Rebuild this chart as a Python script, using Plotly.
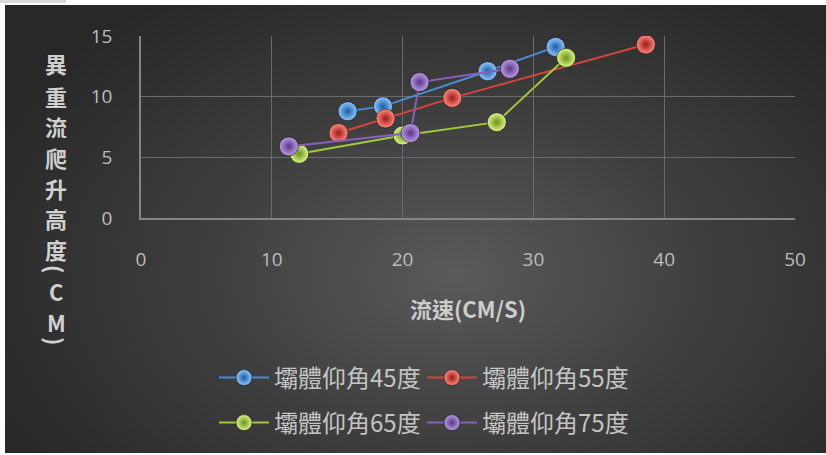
import numpy as np
import plotly.graph_objects as go

# Flow speed (cm/s) vs. gravity-current climbing height (cm) for four dam angles
series_names = ["壩體仰角45度", "壩體仰角55度", "壩體仰角65度", "壩體仰角75度"]
x45 = [15.8, 18.5, 26.5, 31.7]
y45 = [8.8, 9.2, 12.1, 14.1]
x55 = [15.1, 18.7, 23.8, 38.6]
y55 = [7.0, 8.2, 9.9, 14.3]
x65 = [12.1, 20.0, 27.2, 32.5]
y65 = [5.3, 6.8, 7.9, 13.2]
x75 = [11.3, 20.6, 21.3, 28.2]
y75 = [5.9, 7.0, 11.2, 12.3]
x_ticks = [0, 10, 20, 30, 40, 50]
y_ticks = [0, 5, 10, 15]
x_title = "流速(CM/S)"
y_title_chars = ["異", "重", "流", "爬", "升", "高", "度", "(", "C", "M", ")"]

W, H = 826, 455
CJK = "Noto Sans CJK TC, Noto Sans CJK SC, sans-serif"
NUM = "Open Sans, Noto Sans, sans-serif"

# plot area in pixels
PL, PR, PT, PB = 141, 795, 36, 218
# dark chart panel in pixels
BL, BR, BT, BB = 5, 826, 5, 453

def px_x(p):
    return p / W

def px_y(p):
    return 1 - p / H

styles = [
    # line colour, sphere centre, sphere edge
    ("#4a8bd4", "#8cc8ff", "#1d5aa3"),
    ("#d4453d", "#ff8a80", "#9a1a14"),
    ("#a2c83c", "#dcf58a", "#6a9218"),
    ("#8a5fb8", "#bd9ce6", "#573583"),
]

fig = go.Figure()

# radial background shading for the chart panel
gx = np.linspace(0, 1, 80)
gy = np.linspace(0, 1, 60)
GX, GY = np.meshgrid(gx, gy)
r = np.sqrt(((GX - 0.55) / 0.62) ** 2 + ((GY - 0.40) / 0.75) ** 2)
shade = np.clip(1 - r, 0, 1)
fig.add_trace(go.Heatmap(
    x=gx, y=gy, z=shade, zsmooth="best", showscale=False, hoverinfo="skip",
    colorscale=[[0, "#282828"], [0.5, "#3e3e3e"], [1, "#5a5a5a"]],
    zmin=0, zmax=1, xaxis="x", yaxis="y",
))

xs = [x45, x55, x65, x75]
ys = [y45, y55, y65, y75]
for i, (name, xv, yv, (lc, cc, ec)) in enumerate(zip(series_names, xs, ys, styles)):
    fig.add_trace(go.Scatter(
        x=xv, y=yv, name=name, mode="lines+markers",
        xaxis="x2", yaxis="y2",
        legend="legend" if i < 2 else "legend2",
        line=dict(color=lc, width=2),
        marker=dict(size=19, color=cc,
                    gradient=dict(type="radial", color=ec),
                    line=dict(color="rgba(20,20,20,0.6)", width=1)),
    ))

# vertical y-axis title, one character per line; brackets turned sideways
y_pos = [63, 96, 126, 157, 188, 218, 249, 269, 291, 322, 341]
annotations = []
for ch, yp in zip(y_title_chars, y_pos):
    annotations.append(dict(
        text=f"<b>{ch}</b>", x=px_x(56), y=px_y(yp), xref="paper", yref="paper",
        showarrow=False, xanchor="center", yanchor="middle",
        textangle=90 if ch in "()" else 0,
        font=dict(family=CJK, size=22, color="#d0d0d0"),
    ))
annotations.append(dict(
    text=f"<b>{x_title}</b>", x=px_x(468), y=px_y(308), xref="paper", yref="paper",
    showarrow=False, xanchor="center", yanchor="middle",
    font=dict(family=CJK, size=22, color="#cccccc"),
))

shapes = [
    dict(type="rect", xref="paper", yref="paper", x0=0, x1=px_x(66), y0=px_y(3), y1=1,
         fillcolor="#d9d9d9", line=dict(width=0), layer="below"),
]

legend_common = dict(
    orientation="h", xanchor="left", yanchor="middle",
    font=dict(family=CJK, size=24, color="#c4c4c4"),
    bgcolor="rgba(0,0,0,0)", itemwidth=50, entrywidth=143,
    itemclick=False, itemdoubleclick=False,
)

fig.update_layout(
    width=W, height=H,
    margin=dict(l=0, r=0, t=0, b=0, pad=0, autoexpand=False),
    paper_bgcolor="white", plot_bgcolor="rgba(0,0,0,0)",
    showlegend=True,
    xaxis=dict(domain=[px_x(BL), px_x(BR)], range=[0, 1], visible=False, fixedrange=True),
    yaxis=dict(domain=[px_y(BB), px_y(BT)], range=[0, 1], visible=False, fixedrange=True),
    xaxis2=dict(
        domain=[px_x(PL), px_x(PR)], range=[0, 50], anchor="y2",
        tickvals=x_ticks, ticktext=[str(v) for v in x_ticks],
        showgrid=True, gridcolor="#6b6b6b", gridwidth=1,
        showline=True, linecolor="#858585", linewidth=1.5,
        zeroline=False, ticks="", ticklabelstandoff=23,
        tickfont=dict(family=NUM, size=19, color="#bdbdbd"),
    ),
    yaxis2=dict(
        domain=[px_y(PB), px_y(PT)], range=[0, 15], anchor="x2",
        tickvals=y_ticks, ticktext=[str(v) for v in y_ticks],
        showgrid=True, gridcolor="#6b6b6b", gridwidth=1,
        showline=True, linecolor="#858585", linewidth=1.5,
        zeroline=False, ticks="", ticklabelstandoff=23,
        tickfont=dict(family=NUM, size=19, color="#bdbdbd"),
    ),
    legend=dict(x=px_x(214), y=px_y(378), **legend_common),
    legend2=dict(x=px_x(214), y=px_y(423), **legend_common),
    annotations=annotations,
    shapes=shapes,
)

fig.write_html("out.html")
